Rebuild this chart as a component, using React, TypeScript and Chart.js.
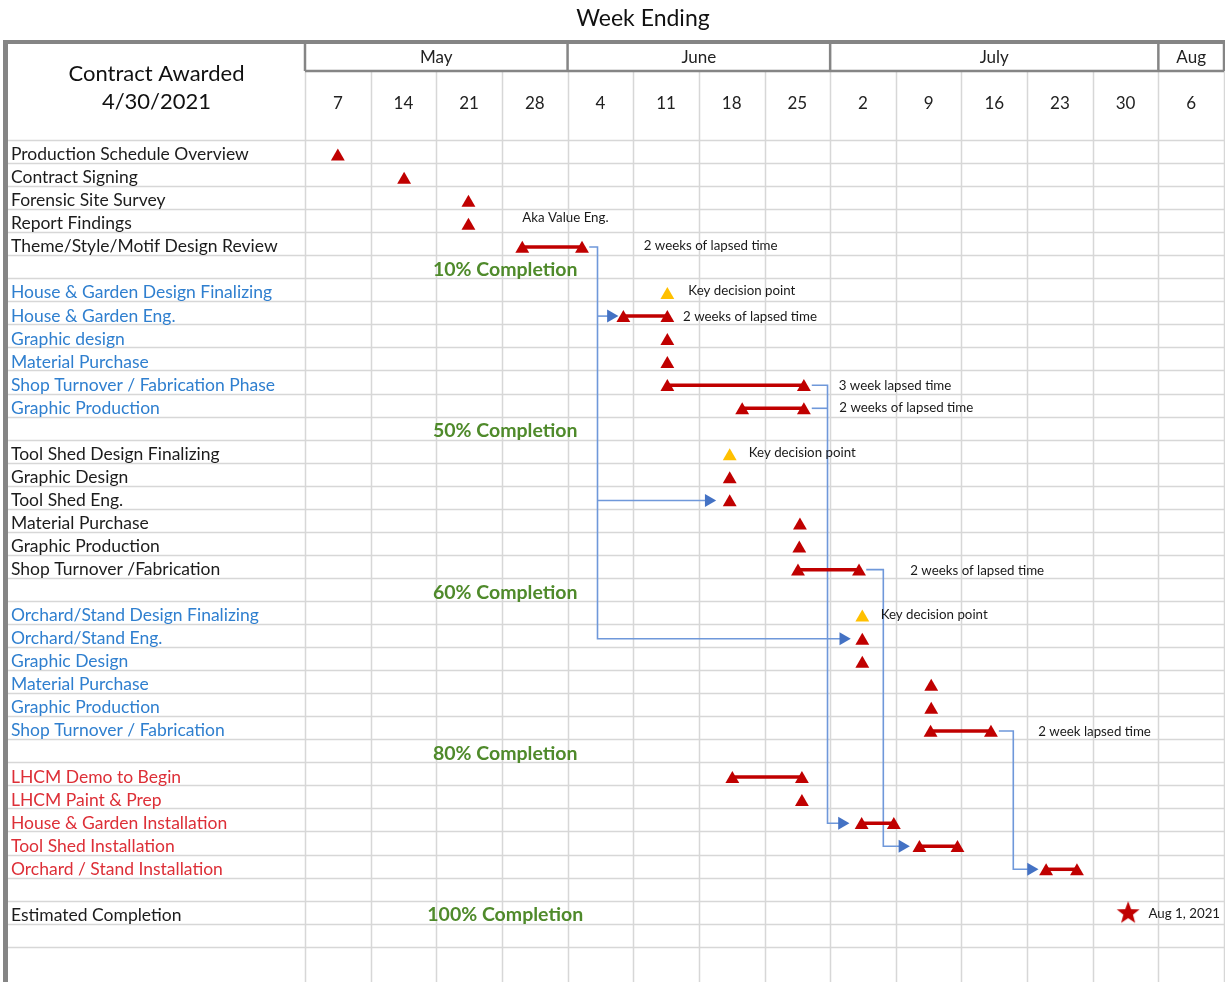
import React, { useEffect, useRef } from 'react';
import { Chart, registerables } from 'chart.js';

Chart.register(...registerables);

const FONT = 'Lato, "Open Sans", "DejaVu Sans", sans-serif';

// ---------- data ----------
const chartTitle = 'Week Ending';
const headerLines = ['Contract Awarded', '4/30/2021'];
const weekLabels = ['7', '14', '21', '28', '4', '11', '18', '25', '2', '9', '16', '23', '30', '6'];
const monthLabels = ['May', 'June', 'July', 'Aug'];
const monthWeekCounts = [4, 4, 5, 1];

const taskLabels = [
  'Production Schedule Overview', 'Contract Signing', 'Forensic Site Survey', 'Report Findings',
  'Theme/Style/Motif Design Review', '',
  'House & Garden Design Finalizing', 'House & Garden Eng.', 'Graphic design', 'Material Purchase',
  'Shop Turnover / Fabrication Phase', 'Graphic Production', '',
  'Tool Shed Design Finalizing', 'Graphic Design', 'Tool Shed Eng.', 'Material Purchase',
  'Graphic Production', 'Shop Turnover /Fabrication', '',
  'Orchard/Stand Design Finalizing', 'Orchard/Stand Eng.', 'Graphic Design', 'Material Purchase',
  'Graphic Production', 'Shop Turnover / Fabrication', '',
  'LHCM Demo to Begin', 'LHCM Paint & Prep', 'House & Garden Installation', 'Tool Shed Installation',
  'Orchard / Stand Installation', '',
  'Estimated Completion',
];
// k = black, b = blue, r = red
const taskGroups = [
  'k', 'k', 'k', 'k', 'k', 'k',
  'b', 'b', 'b', 'b', 'b', 'b', 'k',
  'k', 'k', 'k', 'k', 'k', 'k', 'k',
  'b', 'b', 'b', 'b', 'b', 'b', 'k',
  'r', 'r', 'r', 'r', 'r', 'k',
  'k',
];
const gridRowCount = 36;

// single red milestones: [row, week position]
const milestoneRows = [0, 1, 2, 3, 8, 9, 14, 15, 16, 17, 21, 22, 23, 24, 28];
const milestoneWeeks = [0.5, 1.51, 2.49, 2.49, 5.52, 5.52, 6.47, 6.47, 7.54, 7.53, 8.49, 8.49, 9.54, 9.54, 7.57];

// red duration bars: row, start, end
const barRows = [4, 7, 10, 11, 18, 25, 27, 29, 30, 31];
const barStarts = [3.31, 4.85, 5.52, 6.66, 7.51, 9.53, 6.51, 8.48, 9.36, 11.29];
const barEnds = [4.22, 5.52, 7.6, 7.6, 8.44, 10.45, 7.57, 8.97, 9.94, 11.76];

// key decision points (yellow)
const decisionRows = [6, 13, 20];
const decisionWeeks = [5.52, 6.47, 8.49];

// estimated completion star
const starRow = 33;
const starWeek = 12.54;

// dependency connectors: polylines of [week, row]; last point of each main path is an arrow
const connectorPaths: number[][][] = [
  [[4.33, 4], [4.456, 4], [4.456, 21], [8.2, 21]],
  [[4.456, 7], [4.66, 7]],
  [[4.456, 15], [6.15, 15]],
  [[7.72, 10], [7.96, 10], [7.96, 29], [8.18, 29]],
  [[7.72, 11], [7.96, 11]],
  [[8.55, 18], [8.81, 18], [8.81, 30], [9.1, 30]],
  [[10.57, 25], [10.79, 25], [10.79, 31], [11.06, 31]],
];
const arrowRows = [7, 15, 21, 29, 30, 31];
const arrowWeeks = [4.66, 6.15, 8.2, 8.18, 9.1, 11.06];

// completion milestones
const completionRows = [5, 12, 19, 26, 33];
const completionTexts = ['10% Completion', '50% Completion', '60% Completion', '80% Completion', '100% Completion'];
const completionWeek = 3.05;

// notes
const noteTexts = [
  'Aka Value Eng.', '2 weeks of lapsed time', 'Key decision point', '2 weeks of lapsed time',
  '3 week lapsed time', '2 weeks of lapsed time', 'Key decision point', '2 weeks of lapsed time',
  'Key decision point', '2 week lapsed time', 'Aug 1, 2021',
];
const noteRows = [3, 4, 6, 7, 10, 11, 13, 18, 20, 25, 33];
const noteWeeks = [3.31, 5.16, 5.84, 5.76, 8.13, 8.14, 6.76, 9.22, 8.77, 11.17, 12.85];
const noteRowPos = [0.35, 0.6, 0.55, 0.67, 0.67, 0.62, 0.55, 0.67, 0.6, 0.67, 0.55];

// ---------- styles ----------
const groupColor: Record<string, string> = { k: '#1c1c1c', b: '#2f7fcf', r: '#dd2f37' };
const RED = '#c00000';
const YELLOW = '#ffc000';
const BLUE_LINE = '#6f98da';
const BLUE_ARROW = '#4472c4';
const GREEN = '#4f8a2b';
const GRID = '#d7d7d7';
const FRAME = '#858585';
const TRI_DY = 0.72;
const BAR_DY = 0.64;

function makeStar(size: number, color: string) {
  const c = document.createElement('canvas');
  c.width = size;
  c.height = size;
  const g = c.getContext('2d')!;
  const cx = size / 2, cy = size / 2 + 1, R = size / 2, r = R * 0.42;
  g.beginPath();
  for (let i = 0; i < 10; i++) {
    const rad = i % 2 === 0 ? R : r;
    const a = -Math.PI / 2 + (i * Math.PI) / 5;
    g.lineTo(cx + rad * Math.cos(a), cy + rad * Math.sin(a));
  }
  g.closePath();
  g.fillStyle = color;
  g.fill();
  return c;
}

const sheetPlugin = {
  id: 'sheet',
  beforeDraw(chart: any) {
    const { ctx } = chart;
    const x = chart.scales.x;
    const y = chart.scales.y;
    const left = 8;
    const right = x.getPixelForValue(14);
    const bottom = chart.height;
    const headTop = 42;
    const monthBottom = x.top;
    ctx.save();
    ctx.fillStyle = '#ffffff';
    ctx.fillRect(0, 0, chart.width, chart.height);

    // grid
    ctx.strokeStyle = GRID;
    ctx.lineWidth = 1.5;
    for (let k = 0; k < gridRowCount; k++) {
      const py = Math.round(y.getPixelForValue(k)) + 0.5;
      ctx.beginPath();
      ctx.moveTo(left, py);
      ctx.lineTo(right, py);
      ctx.stroke();
    }
    for (let i = 0; i <= weekLabels.length; i++) {
      const px = Math.round(x.getPixelForValue(i)) + 0.5;
      ctx.beginPath();
      ctx.moveTo(px, monthBottom);
      ctx.lineTo(px, bottom);
      ctx.stroke();
    }

    // month header boxes
    ctx.strokeStyle = FRAME;
    ctx.lineWidth = 2.5;
    ctx.beginPath();
    ctx.moveTo(x.getPixelForValue(0), monthBottom);
    ctx.lineTo(right, monthBottom);
    ctx.stroke();
    let w = 0;
    const bounds = [0];
    monthWeekCounts.forEach((n) => { w += n; bounds.push(w); });
    bounds.forEach((b) => {
      const px = x.getPixelForValue(b);
      ctx.beginPath();
      ctx.moveTo(px, headTop);
      ctx.lineTo(px, monthBottom);
      ctx.stroke();
    });
    ctx.fillStyle = '#222';
    ctx.font = `17px ${FONT}`;
    ctx.textAlign = 'center';
    ctx.textBaseline = 'middle';
    monthLabels.forEach((m, i) => {
      const cx = (x.getPixelForValue(bounds[i]) + x.getPixelForValue(bounds[i + 1])) / 2;
      ctx.fillText(m, cx, (headTop + monthBottom) / 2 + 1);
    });

    // outer frame
    ctx.fillStyle = FRAME;
    ctx.fillRect(3, 40, chart.width - 3, 4);
    ctx.fillRect(3, 40, 5, bottom - 40);

    // title and header cell
    ctx.fillStyle = '#111';
    ctx.font = `23px ${FONT}`;
    ctx.fillText(chartTitle, 643, 19);
    ctx.font = `22px ${FONT}`;
    const hc = (left + x.getPixelForValue(0)) / 2;
    ctx.fillText(headerLines[0], hc, 74);
    ctx.fillText(headerLines[1], hc, 102);
    ctx.restore();
  },
  afterDatasetsDraw(chart: any) {
    const { ctx } = chart;
    const x = chart.scales.x;
    const y = chart.scales.y;
    ctx.save();
    ctx.textBaseline = 'middle';
    ctx.fillStyle = GREEN;
    ctx.font = `bold 19.5px ${FONT}`;
    ctx.textAlign = 'center';
    completionRows.forEach((r, i) => {
      ctx.fillText(completionTexts[i], x.getPixelForValue(completionWeek), y.getPixelForValue(r + 0.62));
    });
    ctx.fillStyle = '#1a1a1a';
    ctx.textAlign = 'left';
    ctx.font = `13.3px ${FONT}`;
    noteTexts.forEach((t, i) => {
      ctx.fillText(t, x.getPixelForValue(noteWeeks[i]), y.getPixelForValue(noteRows[i] + noteRowPos[i]));
    });
    ctx.restore();
  },
};

export default function App() {
  const ref = useRef<HTMLCanvasElement>(null);
  useEffect(() => {
    const star = makeStar(24, RED);
    const datasets: any[] = [];
    datasets.push({
      label: 'milestones',
      data: [
        ...milestoneRows.map((r, i) => ({ x: milestoneWeeks[i], y: r + TRI_DY })),
        ...barRows.map((r, i) => ({ x: barStarts[i], y: r + TRI_DY })),
        ...barRows.map((r, i) => ({ x: barEnds[i], y: r + TRI_DY })),
      ],
      pointStyle: 'triangle', pointRadius: 8, backgroundColor: RED, borderWidth: 0,
    });
    datasets.push({
      label: 'decisions',
      data: decisionRows.map((r, i) => ({ x: decisionWeeks[i], y: r + TRI_DY })),
      pointStyle: 'triangle', pointRadius: 8, backgroundColor: YELLOW, borderWidth: 0,
    });
    datasets.push({
      label: 'completion',
      data: [{ x: starWeek, y: starRow + 0.5 }],
      pointStyle: star, pointRadius: 12,
    });
    datasets.push({
      label: 'arrows',
      data: arrowRows.map((r, i) => ({ x: arrowWeeks[i], y: r + BAR_DY })),
      pointStyle: 'triangle', rotation: 90, pointRadius: 7.5, backgroundColor: BLUE_ARROW, borderWidth: 0,
    });
    barRows.forEach((r, i) => {
      datasets.push({
        label: 'bar' + i,
        data: [{ x: barStarts[i], y: r + BAR_DY }, { x: barEnds[i], y: r + BAR_DY }],
        showLine: true, borderColor: RED, borderWidth: 3.5, pointRadius: 0,
      });
    });
    connectorPaths.forEach((p, i) => {
      datasets.push({
        label: 'link' + i,
        data: p.map(([wx, r]) => ({ x: wx, y: r + BAR_DY })),
        showLine: true, borderColor: BLUE_LINE, borderWidth: 1.6, pointRadius: 0, tension: 0,
      });
    });

    const chart = new Chart(ref.current!, {
      type: 'scatter',
      data: { datasets },
      plugins: [sheetPlugin],
      options: {
        responsive: false,
        animation: false,
        devicePixelRatio: 1,
        layout: { autoPadding: false, padding: { left: 11, top: 71, right: 1, bottom: 0 } },
        plugins: { legend: { display: false }, tooltip: { enabled: false }, title: { display: false } },
        events: [],
        scales: {
          x: {
            type: 'linear', position: 'top', min: 0, max: weekLabels.length,
            grid: { display: false, drawTicks: false }, border: { display: false },
            afterBuildTicks: (s: any) => { s.ticks = weekLabels.map((_, i) => ({ value: i + 0.5 })); },
            afterFit: (s: any) => { s.height = 69; s.paddingLeft = 0; s.paddingRight = 0; },
            ticks: {
              autoSkip: false, maxRotation: 0, minRotation: 0, padding: 26, color: '#222',
              font: { family: FONT, size: 17 },
              callback: (_v: any, i: number) => weekLabels[i],
            },
          },
          y: {
            type: 'linear', reverse: true, min: 0, max: 36.53,
            grid: { display: false, drawTicks: false }, border: { display: false },
            afterBuildTicks: (s: any) => { s.ticks = taskLabels.map((_, i) => ({ value: i + 0.5 })); },
            afterFit: (s: any) => { s.width = 294; s.paddingTop = 0; s.paddingBottom = 0; },
            ticks: {
              autoSkip: false, crossAlign: 'far', padding: 0, labelOffset: 3,
              color: (c: any) => groupColor[taskGroups[c.index]] || '#1c1c1c',
              font: { family: FONT, size: 17.5 },
              callback: (_v: any, i: number) => taskLabels[i],
            },
          },
        },
      } as any,
    });
    return () => chart.destroy();
  }, []);
  return (
    <div style={{ position: 'fixed', left: 0, top: 0, width: 1225, height: 982, background: '#fff', overflow: 'hidden' }}>
      <canvas ref={ref} width={1225} height={982} style={{ width: 1225, height: 982, display: 'block' }} />
    </div>
  );
}
